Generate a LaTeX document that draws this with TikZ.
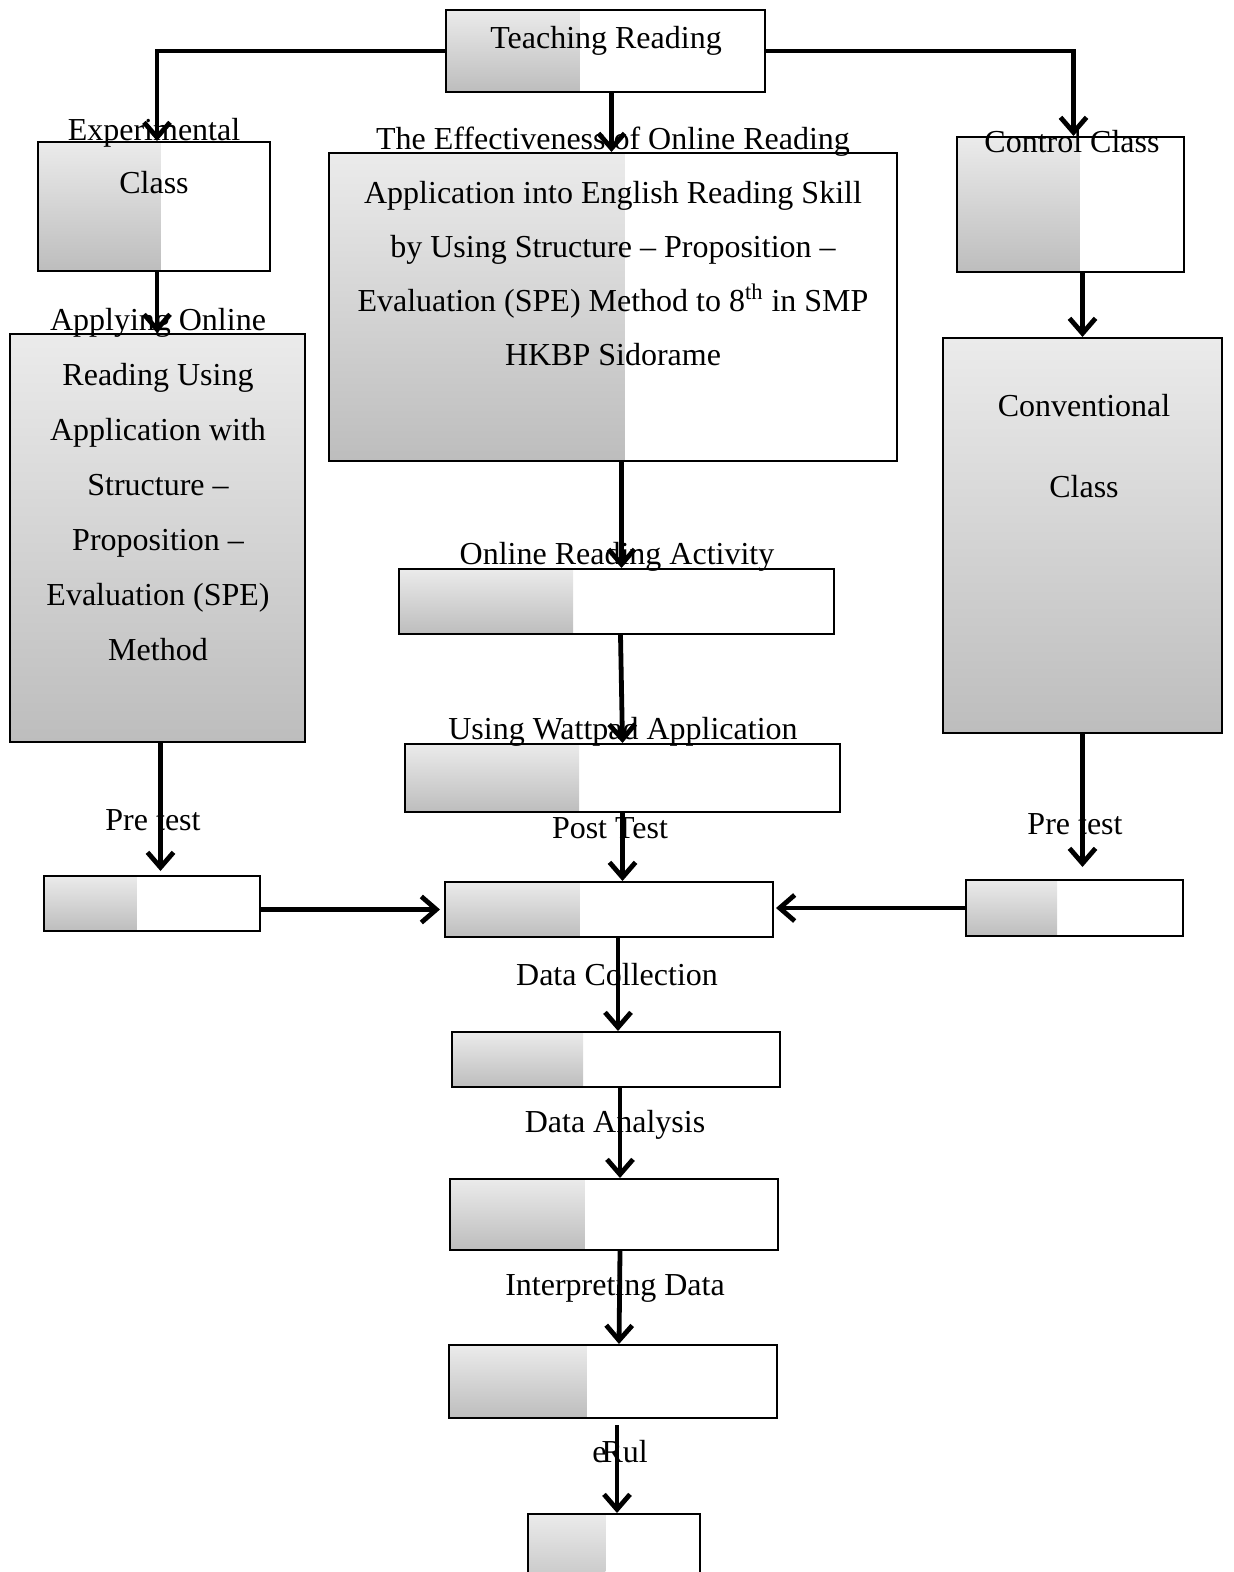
\documentclass[tikz,border=0pt]{standalone}
\usepackage{fontspec}
\setmainfont{Liberation Serif}
\usetikzlibrary{positioning, arrows.meta, calc, fit}
\definecolor{shadetop}{HTML}{EBEBEB}
\definecolor{shadebot}{HTML}{BDBDBD}

\begin{document}
\begin{tikzpicture}[x=0.5pt, y=-0.5pt]
        \tikzset{gbox/.style={draw, line width=1pt, inner sep=0pt,
            path picture={\shade[top color=shadetop, bottom color=shadebot] (path picture bounding box.north west) rectangle ($(path picture bounding box.south west)!#1!(path picture bounding box.south east)$);}}}
        \tikzstyle{txt} = [font=\fontsize{16}{27}\selectfont, inner sep=0pt, align=center]
        \tikzstyle{arrow} = [line width=2.4pt, -{Straight Barb[length=7.5pt, width=13pt]}]

        \useasboundingbox (0,0) rectangle (1233,1572);

        % boxes
        \node [gbox=0.42, fit={(446,10) (765,92)}] (teach) {};
        \node [gbox=0.53, fit={(38,142) (270,271)}] (exper) {};
        \node [gbox=0.52, fit={(329,153) (897,461)}] (effect) {};
        \node [gbox=0.54, fit={(957,137) (1184,272)}] (control) {};
        \node [gbox=1, fit={(10,334) (305,742)}] (apply) {};
        \node [gbox=1, fit={(943,338) (1222,733)}] (conven) {};
        \node [gbox=0.40, fit={(399,569) (834,634)}] (activity) {};
        \node [gbox=0.40, fit={(405,744) (840,812)}] (wattpad) {};
        \node [gbox=0.43, fit={(44,876) (260,931)}] (preL) {};
        \node [gbox=0.41, fit={(445,882) (773,937)}] (posttest) {};
        \node [gbox=0.42, fit={(966,880) (1183,936)}] (preR) {};
        \node [gbox=0.40, fit={(452,1032) (780,1087)}] (collect) {};
        \node [gbox=0.41, fit={(450,1179) (778,1250)}] (analysis) {};
        \node [gbox=0.42, fit={(449,1345) (777,1418)}] (interpret) {};
        \node [gbox=0.45, fit={(528,1514) (700,1600)}] (result) {};

        % texts
        \node [txt, anchor=base] (teach_txt) at (606,49) {Teaching Reading};
        \node [txt, anchor=north, font=\fontsize{16}{26.5}\selectfont] (exper_txt) at (154,118) {Experimental\\Class};
        \node [txt, anchor=north] (effect_txt) at (613,127) {The Effectiveness of Online Reading\\Application into English Reading Skill\\by Using Structure -- Proposition --\\Evaluation (SPE) Method to 8\textsuperscript{th} in SMP\\HKBP Sidorame};
        \node [txt, anchor=base] (control_txt) at (1072,153) {Control Class};
        \node [txt, anchor=north, font=\fontsize{16}{27.5}\selectfont] (apply_txt) at (158,308) {Applying Online\\Reading Using\\Application with\\Structure --\\Proposition --\\Evaluation (SPE)\\Method};
        \node [txt, anchor=north, font=\fontsize{16}{40.5}\selectfont] (conven_txt) at (1084,394) {Conventional\\Class};
        \node [txt, anchor=base] (activity_txt) at (617,564) {Online Reading Activity};
        \node [txt, anchor=base] (wattpad_txt) at (623,739) {Using Wattpad Application};
        \node [txt, anchor=base] (preL_txt) at (153,830) {Pre test};
        \node [txt, anchor=base] (posttest_txt) at (610,838) {Post Test};
        \node [txt, anchor=base] (preR_txt) at (1075,834) {Pre test};
        \node [txt, anchor=base] (collect_txt) at (617,985) {Data Collection};
        \node [txt, anchor=base] (analysis_txt) at (615,1132) {Data Analysis};
        \node [txt, anchor=base] (interpret_txt) at (615,1295) {Interpreting Data};
        \node [txt, anchor=base] (result_txt) at (620,1462) {e\kern-2.5ptRul};

        % arrows
        \draw [arrow] (teach.west) -| ([xshift=1.5pt]exper.north);
        \draw [arrow] (teach.east) -| ([xshift=1.5pt]control.north);
        \draw [arrow] ([xshift=3pt]teach.south) -- ([xshift=3pt]teach.south |- effect.north);
        \draw [arrow] ([xshift=1.5pt]exper.south) -- ([xshift=1.5pt]exper.south |- apply.north);
        \draw [arrow] (control.south -| conven.north) -- (conven.north);
        \draw [arrow] ([xshift=2.5pt]effect.south -| activity.north) -- ([xshift=2.5pt]activity.north);
        \draw [arrow] ([xshift=2pt]activity.south) -- (wattpad.north);
        \draw [arrow] (wattpad.south) -- (wattpad.south |- posttest.north);
        \draw [arrow, shorten >=2pt] ([xshift=1.5pt]apply.south) -- ([xshift=1.5pt]apply.south |- preL.north);
        \draw [arrow, shorten >=6pt] (conven.south) -- (conven.south |- preR.north);
        \draw [arrow, shorten >=2pt] (posttest.west -| preL.east) -- (posttest.west);
        \draw [arrow, shorten >=1pt] (preR.west) -- (preR.west -| posttest.east);
        \draw [arrow] ([xshift=1pt]collect.north |- posttest.south) -- ([xshift=1pt]collect.north);
        \draw [arrow] ([xshift=2pt]collect.south) -- ([xshift=3pt]analysis.north);
        \draw [arrow] ([xshift=3pt]analysis.south) -- ([xshift=3pt]interpret.north);
        \draw [arrow, shorten <=3pt] ([xshift=2pt]interpret.south) -- ([xshift=1.5pt]result.north);
    \end{tikzpicture}
\end{document}
